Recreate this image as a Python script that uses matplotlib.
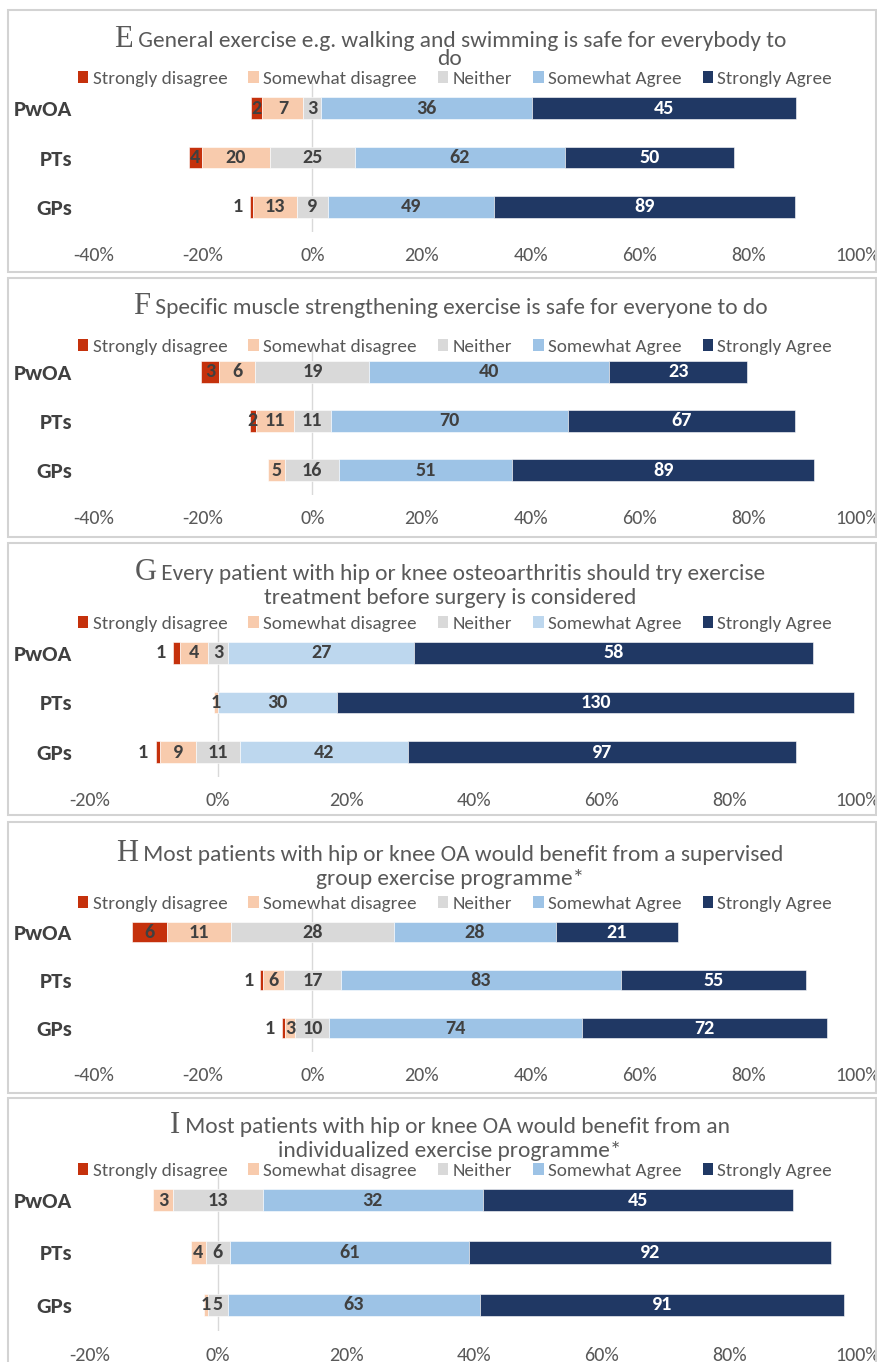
import matplotlib
matplotlib.use("Agg")
import matplotlib.pyplot as plt
from matplotlib.patches import Patch, Rectangle
from matplotlib.font_manager import FontProperties, findfont


def pick(names):
    for n in names:
        try:
            findfont(FontProperties(family=n), fallback_to_default=False)
            return n
        except Exception:
            pass
    return "DejaVu Sans"


SANS = pick(["Carlito", "Lato", "Open Sans"])
SERIF = pick(["Liberation Serif", "DejaVu Serif"])

# ---- data ----
groups = ["PwOA", "PTs", "GPs"]
levels = ["Strongly disagree", "Somewhat disagree", "Neither",
          "Somewhat Agree", "Strongly Agree"]

letters = ["E", "F", "G", "H", "I"]
titles = [
    ["General exercise e.g. walking and swimming is safe for everybody to", "do"],
    ["Specific muscle strengthening exercise is safe for everyone to do"],
    ["Every patient with hip or knee osteoarthritis should try exercise",
     "treatment before surgery is considered"],
    ["Most patients with hip or knee OA would benefit from a supervised",
     "group exercise programme*"],
    ["Most patients with hip or knee OA would benefit from an",
     "individualized exercise programme*"],
]

counts_e = [[2, 7, 3, 36, 45], [4, 20, 25, 62, 50], [1, 13, 9, 49, 89]]
counts_f = [[3, 6, 19, 40, 23], [2, 11, 11, 70, 67], [0, 5, 16, 51, 89]]
counts_g = [[1, 4, 3, 27, 58], [0, 1, 0, 30, 130], [1, 9, 11, 42, 97]]
counts_h = [[6, 11, 28, 28, 21], [1, 6, 17, 83, 55], [1, 3, 10, 74, 72]]
counts_i = [[0, 3, 13, 32, 45], [0, 4, 6, 61, 92], [0, 1, 5, 63, 91]]
all_counts = [counts_e, counts_f, counts_g, counts_h, counts_i]

x_ranges = [(-40, 100), (-40, 100), (-20, 100), (-40, 100), (-20, 100)]

# ---- style / layout ----
base_colors = ["#C5310C", "#F8CBAD", "#D9D9D9", "#9DC3E6", "#203864"]
agree_light = ["#9DC3E6", "#9DC3E6", "#BDD7EE", "#9DC3E6", "#9DC3E6"]
GREY = "#595959"
DARK = "#404040"

# pixel layout per panel: box top/bottom, title baselines, legend y, bar centres, axis left/right
layout = [
    dict(box=(10, 272), tl=(47, 65), leg=79, bars=(108, 157, 207), ax=(94, 858)),
    dict(box=(278, 537), tl=(314,), leg=347, bars=(372, 422, 470), ax=(94, 858)),
    dict(box=(543, 815), tl=(580, 604), leg=624, bars=(653, 703, 752), ax=(90, 858)),
    dict(box=(822, 1093), tl=(861, 885), leg=904, bars=(932, 980, 1028), ax=(94, 858)),
    dict(box=(1098, 1372), tl=(1133, 1157), leg=1171, bars=(1200, 1253, 1305), ax=(90, 858)),
]

W, H = 878, 1362
fig = plt.figure(figsize=(W / 100, H / 100), dpi=100)
renderer = fig.canvas.get_renderer()


def fx(px):
    return px / W


def fy(py):
    return 1 - py / H


TITLE_CX = 450
TITLE_FS = 16.8
LEG_FS = 13.8
TICK_FS = 14.5
CAT_FS = 16.5
VAL_FS = 14.5

for k in range(5):
    lay = layout[k]
    counts = all_counts[k]
    xmin, xmax = x_ranges[k]
    colors = list(base_colors)
    colors[3] = agree_light[k]

    # panel frame
    top, bot = lay["box"]
    fig.add_artist(Rectangle((fx(8), fy(bot)), (876 - 8) / W, (bot - top) / H,
                             transform=fig.transFigure, fill=False,
                             edgecolor="#D3D3D3", lw=1.5))

    # title
    t1 = fig.text(0, 0, letters[k], fontfamily=SERIF, fontsize=22, color=GREY, va="baseline")
    t2 = fig.text(0, 0, " " + titles[k][0], fontfamily=SANS, fontsize=TITLE_FS, color=GREY, va="baseline")
    w1 = t1.get_window_extent(renderer).width
    w2 = t2.get_window_extent(renderer).width
    x0 = TITLE_CX - (w1 + w2) / 2
    t1.set_position((fx(x0), fy(lay["tl"][0])))
    t2.set_position((fx(x0 + w1), fy(lay["tl"][0])))
    if len(titles[k]) > 1:
        fig.text(fx(TITLE_CX), fy(lay["tl"][1]), titles[k][1], fontfamily=SANS,
                 fontsize=TITLE_FS, color=GREY, ha="center", va="baseline")

    # legend
    handles = [Patch(facecolor=c, edgecolor="none") for c in colors]
    fig.legend(handles, levels, loc="center", bbox_to_anchor=(fx(455), fy(lay["leg"])),
               ncol=5, frameon=False, handlelength=0.55, handleheight=0.55,
               handletextpad=0.22, columnspacing=1.1, borderpad=0, borderaxespad=0,
               prop=dict(family=SANS, size=LEG_FS), labelcolor=GREY)

    # axes
    c0, c1, c2 = lay["bars"]
    sp = (c2 - c0) / 2
    atop, abot = c0 - sp / 2, c2 + sp / 2
    axl, axr = lay["ax"]
    ax = fig.add_axes([fx(axl), fy(abot), (axr - axl) / W, (abot - atop) / H])
    ax.set_xlim(xmin, xmax)
    ax.set_ylim(2.5, -0.5)
    ax.axvline(0, color="#D9D9D9", lw=1, zorder=0)
    for s in ax.spines.values():
        s.set_visible(False)

    for i, row in enumerate(counts):
        tot = sum(row)
        pct = [100 * v / tot for v in row]
        left = -(pct[0] + pct[1] + pct[2] / 2)
        for j, (v, p) in enumerate(zip(row, pct)):
            if v > 0:
                ax.barh(i, p, left=left, height=0.43, color=colors[j],
                        edgecolor="white", linewidth=0.4, zorder=2)
                tc = "white" if j == 4 else DARK
                if j == 0 and v == 1:
                    ax.text(left - 1.2, i, str(v), ha="right", va="center",
                            fontfamily=SANS, fontsize=VAL_FS, fontweight="bold", color=tc, zorder=3)
                else:
                    ax.text(left + p / 2, i, str(v), ha="center", va="center",
                            fontfamily=SANS, fontsize=VAL_FS, fontweight="bold", color=tc, zorder=3)
            left += p

    ticks = list(range(xmin, xmax + 1, 20))
    ax.set_xticks(ticks)
    ax.set_xticklabels([f"{t}%" for t in ticks], fontfamily=SANS, fontsize=TICK_FS, color=GREY)
    ax.set_yticks(range(3))
    ax.set_yticklabels(groups, fontfamily=SANS, fontsize=CAT_FS, fontweight="bold", color=DARK)
    ax.tick_params(axis="x", length=0, pad=11)
    ax.tick_params(axis="y", length=0, pad=(axl - 72) * 0.72)

fig.savefig("out.png", dpi=100, facecolor="white")
